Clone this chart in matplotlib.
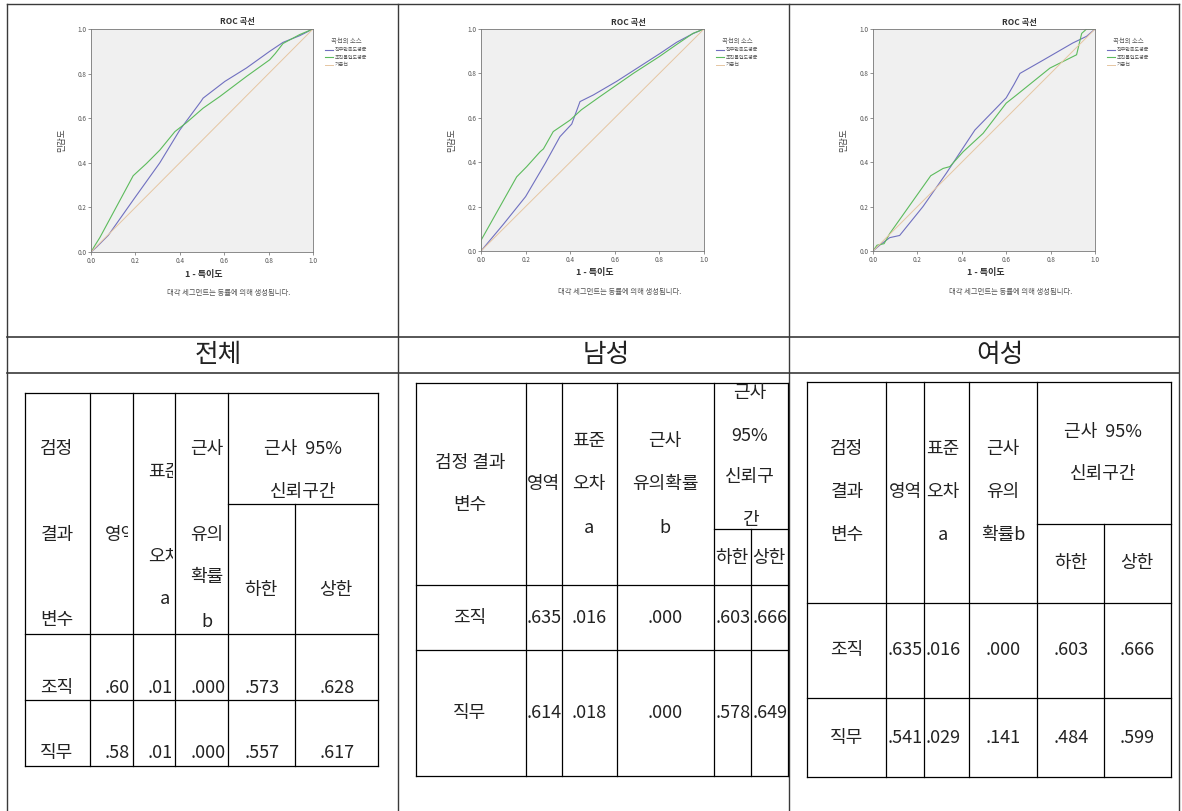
import matplotlib.pyplot as plt
from matplotlib.lines import Line2D
from matplotlib.transforms import Bbox, TransformedBbox

plt.rcParams['font.family'] = ['Noto Sans CJK KR', 'DejaVu Sans']

W, H = 1182, 811

# 집단과 곡선 이름
groups = ['전체', '남성', '여성']
series = ['직무만족도평균', '조직몰입도평균', '기준선']

# ROC 곡선 좌표 (1 - 특이도, 민감도), 집단 순서: 전체, 남성, 여성
job_fpr = [
    [0, 0.025, 0.078, 0.2, 0.31, 0.40, 0.495, 0.505, 0.603, 0.70, 0.805, 0.865, 0.94, 1],
    [0, 0.1, 0.2, 0.288, 0.354, 0.407, 0.444, 0.504, 0.608, 0.803, 0.877, 0.952, 1],
    [0, 0.03, 0.075, 0.12, 0.225, 0.33, 0.459, 0.60, 0.635, 0.662, 0.767, 0.90, 0.962, 1],
]
job_tpr = [
    [0, 0.022, 0.075, 0.247, 0.40, 0.547, 0.675, 0.69, 0.765, 0.825, 0.90, 0.94, 0.97, 1],
    [0, 0.12, 0.245, 0.395, 0.515, 0.572, 0.673, 0.703, 0.764, 0.89, 0.94, 0.98, 1],
    [0, 0.026, 0.06, 0.07, 0.20, 0.35, 0.545, 0.69, 0.75, 0.80, 0.86, 0.937, 0.967, 1],
]
org_fpr = [
    [0, 0.018, 0.04, 0.19, 0.25, 0.31, 0.378, 0.43, 0.505, 0.58, 0.70, 0.805, 0.83, 0.865, 0.94, 1],
    [0, 0, 0.16, 0.205, 0.265, 0.28, 0.324, 0.40, 0.45, 0.534, 0.683, 0.80, 0.877, 0.95, 1],
    [0, 0.018, 0.05, 0.075, 0.26, 0.316, 0.346, 0.406, 0.496, 0.60, 0.647, 0.797, 0.917, 0.94, 0.962, 1],
]
org_tpr = [
    [0, 0.03, 0.065, 0.342, 0.397, 0.457, 0.54, 0.58, 0.645, 0.697, 0.787, 0.862, 0.89, 0.935, 0.975, 1],
    [0, 0.048, 0.334, 0.38, 0.447, 0.46, 0.538, 0.59, 0.636, 0.696, 0.80, 0.876, 0.93, 0.98, 1],
    [0, 0.026, 0.033, 0.078, 0.339, 0.372, 0.38, 0.447, 0.53, 0.666, 0.703, 0.824, 0.884, 0.98, 1.0, 1],
]
diag = [0, 1]

# 곡선 아래 영역 표
row_names = ['조직', '직무']
area = [['.60', '.58'], ['.635', '.614'], ['.635', '.541']]
std_err = [['.01', '.01'], ['.016', '.018'], ['.016', '.029']]
p_val = [['.000', '.000'], ['.000', '.000'], ['.000', '.141']]
ci_low = [['.573', '.557'], ['.603', '.578'], ['.603', '.484']]
ci_high = [['.628', '.617'], ['.666', '.649'], ['.666', '.599']]

fig = plt.figure(figsize=(W / 100, H / 100), dpi=100)


def fx(x):
    return x / W


def fy(y):
    return 1 - y / H


def line(x0, y0, x1, y1, color='black', lw=0.9):
    fig.add_artist(Line2D([fx(x0), fx(x1)], [fy(y0), fy(y1)],
                          transform=fig.transFigure, color=color, lw=lw))


def txt(x, y, s, size=13, ha='center', clip=None, **kw):
    t = fig.text(fx(x), fy(y), s, fontsize=size, ha=ha, va='center',
                 color='#222222', **kw)
    if clip is not None:
        x0, y0, x1, y1 = clip
        t.set_clip_box(TransformedBbox(Bbox([[fx(x0), fy(y1)], [fx(x1), fy(y0)]]),
                                       fig.transFigure))
        t.set_clip_on(True)
    return t


# 바깥 틀
frame = '#3a3a3a'
line(7, 4, 1179, 4, frame, 1.0)
line(7, 337, 1179, 337, frame, 1.2)
line(7, 373, 1179, 373, frame, 1.2)
for xv in [7, 398, 789, 1179]:
    line(xv, 4, xv, 811, frame, 1.0)

# 집단 이름 줄
for g, xc in zip(groups, [218, 606, 1000]):
    txt(xc, 355, g, size=18.5, fontweight='light')

# ROC 그림
ax_boxes = [(91, 29, 313, 252), (481, 29, 704, 251), (873, 29, 1095, 251)]
ticks = [0, 0.2, 0.4, 0.6, 0.8, 1.0]
for i in range(3):
    l, t, r, b = ax_boxes[i]
    ax = fig.add_axes([fx(l), fy(b), (r - l) / W, (b - t) / H])
    ax.set_facecolor('#f0f0f0')
    ax.plot(job_fpr[i], job_tpr[i], color='#7070c0', lw=0.8, label=series[0])
    ax.plot(org_fpr[i], org_tpr[i], color='#5cbb5c', lw=0.8, label=series[1])
    ax.plot(diag, diag, color='#e6c6a2', lw=0.7, label=series[2])
    ax.set_xlim(0, 1)
    ax.set_ylim(0, 1)
    ax.set_xticks(ticks)
    ax.set_yticks(ticks)
    ax.xaxis.set_major_formatter('{x:.1f}')
    ax.yaxis.set_major_formatter('{x:.1f}')
    ax.tick_params(length=2, width=0.5, labelsize=4.6, colors='#666666',
                   labelcolor='#555555', pad=1.5)
    for sp in ax.spines.values():
        sp.set_color('#777777')
        sp.set_linewidth(0.6)
    ax.text(0.66, 1 + 7 / 223, 'ROC 곡선', transform=ax.transAxes, ha='center',
            va='center', fontsize=6, fontweight='bold', color='#333333')
    ax.text(-0.13, 0.5, '민감도', transform=ax.transAxes, rotation=90,
            ha='center', va='center', fontsize=6.2, color='#444444')
    ax.text(0.51, -22 / 223, '1 - 특이도', transform=ax.transAxes, ha='center',
            va='center', fontsize=6.5, fontweight='bold', color='#333333')
    ax.text(0.62, -41 / 223, '대각 세그먼트는 동률에 의해 생성됩니다.',
            transform=ax.transAxes, ha='center', va='center', fontsize=5.3,
            color='#555555')
    leg = ax.legend(title='곡선의 소스', loc='upper left',
                    bbox_to_anchor=(1 + 12 / 222, 0.965), frameon=False,
                    fontsize=3.6, title_fontsize=4.6, handlelength=1.6,
                    handletextpad=0.4, labelspacing=0.5, borderaxespad=0,
                    borderpad=0)
    leg.get_title().set_color('#555555')
    for tx in leg.get_texts():
        tx.set_color('#555555')


# 표
def table_lines(cols, top, sub, rows):
    left, right = cols[0], cols[-1]
    bottom = rows[-1]
    line(left, top, right, top)
    line(cols[4], sub, right, sub)
    for yb in rows:
        line(left, yb, right, yb)
    for k, xv in enumerate(cols):
        if k == 5:
            line(xv, sub, xv, bottom)
        else:
            line(xv, top, xv, bottom)


# 전체
c1 = [25, 90, 133, 175, 228, 295, 378]
table_lines(c1, 393, 504, [634, 700, 766])
txt(57, 449, '검정')
txt(57, 535, '결과')
txt(57, 620, '변수')
txt(105, 535, '영역', ha='left', clip=(90, 393, 128, 634))
txt(148, 472, '표준', ha='left', clip=(133, 393, 173, 634))
txt(148, 557, '오차', ha='left', clip=(133, 393, 173, 634))
txt(165, 599, 'a')
txt(207, 449, '근사')
txt(207, 535, '유의')
txt(207, 577, '확률')
txt(207, 622, 'b')
txt(303, 449, '근사  95%')
txt(303, 492, '신뢰구간')
txt(261, 590, '하한')
txt(336, 590, '상한')
for j, yr in enumerate([688, 753]):
    txt(57, yr, row_names[j])
    txt(105, yr, area[0][j], ha='left', clip=(90, 634, 132, 766))
    txt(148, yr, std_err[0][j], ha='left', clip=(133, 634, 174, 766))
    txt(208, yr, p_val[0][j])
    txt(262, yr, ci_low[0][j])
    txt(337, yr, ci_high[0][j])

# 남성
c2 = [416, 526, 562, 617, 714, 751, 788]
table_lines(c2, 383, 529, [585, 650, 776])
txt(470, 463, '검정 결과')
txt(470, 505, '변수')
txt(544, 484, '영역')
txt(589, 441, '표준')
txt(589, 484, '오차')
txt(589, 528, 'a')
txt(665, 441, '근사')
txt(665, 484, '유의확률')
txt(665, 528, 'b')
txt(750, 393, '근사')
txt(750, 436, '95%')
txt(750, 477, '신뢰구')
txt(750, 520, '간')
txt(732, 558, '하한')
txt(769, 558, '상한')
for j, yr in enumerate([618, 713]):
    txt(470, yr, row_names[j])
    txt(544, yr, area[1][j])
    txt(589, yr, std_err[1][j])
    txt(665, yr, p_val[1][j])
    txt(733, yr, ci_low[1][j])
    txt(770, yr, ci_high[1][j], clip=(751, 585, 788, 776))

# 여성
c3 = [807, 886, 924, 969, 1037, 1104, 1171]
table_lines(c3, 382, 524, [603, 698, 777])
txt(847, 449, '검정')
txt(847, 492, '결과')
txt(847, 535, '변수')
txt(905, 492, '영역')
txt(943, 449, '표준')
txt(943, 492, '오차')
txt(943, 535, 'a')
txt(1003, 449, '근사')
txt(1003, 492, '유의')
txt(1003, 535, '확률b')
txt(1103, 432, '근사  95%')
txt(1103, 474, '신뢰구간')
txt(1071, 563, '하한')
txt(1137, 563, '상한')
for j, yr in enumerate([650, 738]):
    txt(847, yr, row_names[j])
    txt(905, yr, area[2][j])
    txt(943, yr, std_err[2][j])
    txt(1003, yr, p_val[2][j])
    txt(1071, yr, ci_low[2][j])
    txt(1137, yr, ci_high[2][j])

fig.savefig('out.png', dpi=100)
